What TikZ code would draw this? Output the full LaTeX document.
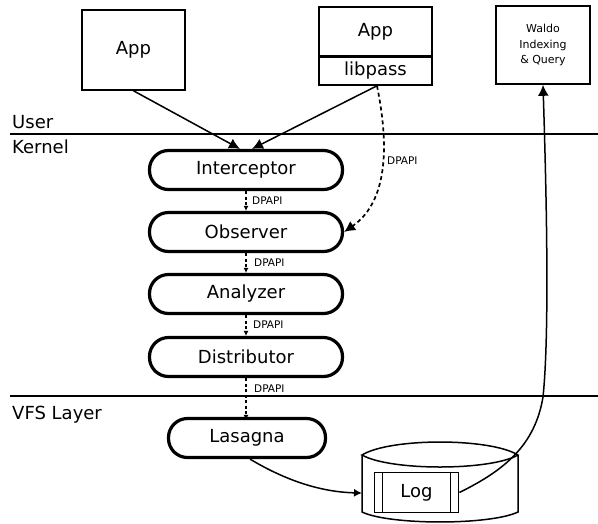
\documentclass[tikz,border=0pt]{standalone}
\usepackage{fontspec}
\setmainfont{DejaVu Sans}
\usetikzlibrary{arrows.meta}
\begin{document}
\begin{tikzpicture}[x=1pt,y=-1pt,
  pill/.style={draw,line width=3.2pt,rounded corners=19pt,minimum width=193pt,minimum height=39pt,font=\fontsize{18}{20}\selectfont,inner sep=0pt},
  box/.style={draw,line width=1.6pt,inner sep=0pt,font=\fontsize{18}{20}\selectfont},
  lbl/.style={font=\fontsize{18}{20}\selectfont,inner sep=0pt,anchor=base west},
  wtxt/.style={font=\fontsize{11}{13}\selectfont,inner sep=0pt,anchor=base},
  dp/.style={font=\fontsize{10.5}{12}\selectfont,inner sep=0pt,anchor=west},
  darr/.style={draw,line width=1.5pt,dash pattern=on 3pt off 2.5pt,-{Latex[length=5pt,width=5pt]}},
  arr/.style={draw,line width=1.5pt,-{Latex[length=11pt,width=11pt]}},
  sep/.style={draw,line width=1.5pt},
]
\useasboundingbox (0,0) rectangle (598,523);

% top boxes
\node[box,minimum width=103pt,minimum height=80pt] (app1) at (133.5,50) {App};
\node[box,minimum width=113pt,minimum height=49pt] (app2) at (375.5,31.5) {App};
\node[box,minimum width=113pt,minimum height=28pt] (libpass) at (375.5,71) {libpass};
\node[box,minimum width=94pt,minimum height=78pt] (waldo) at (543,45) {};
\node[wtxt] (w1) at (543,32) {Waldo};
\node[wtxt] (w2) at (543,48) {Indexing};
\node[wtxt] (w3) at (543,63) {\& Query};

% layer lines
\coordinate (u1) at (10,134);
\coordinate (u2) at (598,134);
\coordinate (v1) at (10,396);
\coordinate (v2) at (598,396);
\draw[sep] (u1) -- (u2);
\draw[sep] (v1) -- (v2);
\node[lbl] (user) at (12,128) {User};
\node[lbl] (kernel) at (12,153) {Kernel};
\node[lbl] (vfs) at (12,419) {VFS Layer};

% pills
\node[pill] (int) at (246,170) {Interceptor};
\node[pill] (obs) at (246,232) {Observer};
\node[pill] (ana) at (246,294) {Analyzer};
\node[pill] (dis) at (246,357) {Distributor};
\node[pill,minimum width=157pt] (las) at (247,438) {Lasagna};

% app arrows
\draw[arr] (app1.south) -- ([xshift=-6pt]int.north);
\draw[arr] ([xshift=1.5pt]libpass.south) -- ([xshift=6pt]int.north);
\draw[line width=1.7pt,dash pattern=on 4pt off 3pt,-{Latex[length=11pt,width=11pt]}]
  ([xshift=1.5pt]libpass.south) .. controls (388,140) and (390,200) .. (obs.east);
\node[dp] (dpl) at (387,161) {DPAPI};

% DPAPI chain
\draw[darr] (int.south) -- (obs.north);
\node[dp] (dp1) at (252,201) {DPAPI};
\draw[darr] (obs.south) -- (ana.north);
\node[dp] (dp2) at (254,263) {DPAPI};
\draw[darr] (ana.south) -- (dis.north);
\node[dp] (dp3) at (253,325) {DPAPI};
\draw[darr] (dis.south) -- ([yshift=-3pt]dis.south |- las.north);
\node[dp] (dp4) at (254,389) {DPAPI};

% cylinder
\draw[line width=1.5pt] (362,455) -- (362,512) .. controls (390,525.3) and (490,525.3) .. (518,512) -- (518,455)
  .. controls (490,437.7) and (390,437.7) .. (362,455)
  .. controls (390,471) and (490,471) .. (518,455);
\node[box,line width=1.8pt,minimum width=84pt,minimum height=40pt] (log) at (416.5,492.5) {Log};
\draw[line width=1.5pt] ([xshift=9pt]log.north west) -- ([xshift=9pt]log.south west);
\draw[line width=1.5pt] ([xshift=-9pt]log.north east) -- ([xshift=-9pt]log.south east);
\coordinate (cylleft) at (362,493);

% lasagna to log
\draw[line width=1.5pt,-{Latex[length=8pt,width=8pt]}] ([xshift=3pt]las.south) .. controls (285,480) and (320,492) .. (cylleft);

% log to waldo
\draw[arr] (log.east) .. controls (505,470) and (535,445) .. (543,397)
  .. controls (550,330) and (546,180) .. (waldo.south);
\end{tikzpicture}
\end{document}
